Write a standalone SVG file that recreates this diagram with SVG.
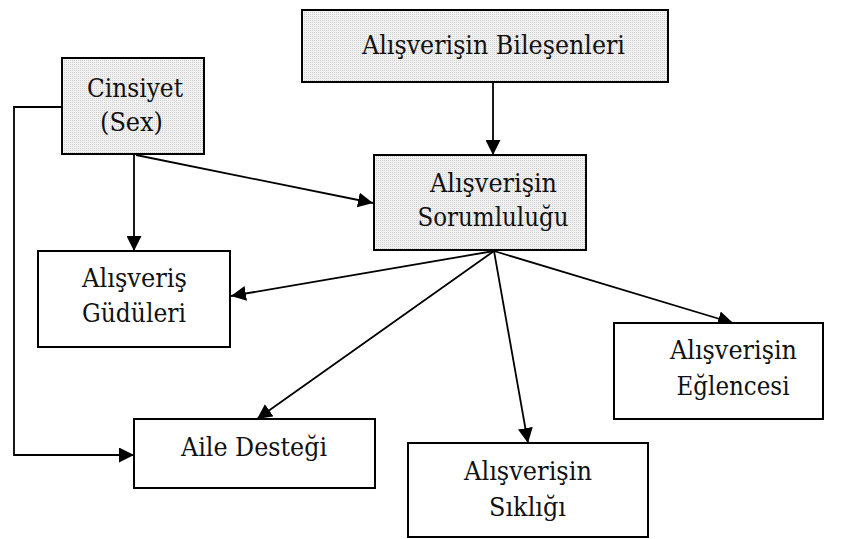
<svg xmlns="http://www.w3.org/2000/svg" width="845" height="539" viewBox="0 0 845 539">
  <style>
    .box { stroke: #000; stroke-width: 2; }
    .plain { fill: #fff; }
    .shaded { fill: url(#dots); }
    .label { font-family: "DejaVu Serif", serif; font-size: 26px; fill: #111; text-anchor: middle; }
    .link { fill: none; stroke: #000; stroke-width: 1.8; marker-end: url(#head); }
  </style>
  <defs>
    <pattern id="dots" width="2" height="2" patternUnits="userSpaceOnUse">
      <rect width="2" height="2" fill="#f2f2f2"/>
      <rect width="1" height="1" fill="#cfcfcf"/>
    </pattern>
    <marker id="head" viewBox="0 0 15 15" refX="15" refY="7.5" markerWidth="15" markerHeight="15" markerUnits="userSpaceOnUse" orient="auto">
      <path d="M0,0 L15,7.5 L0,15 Z" fill="#000"/>
    </marker>
  </defs>
  <rect width="845" height="539" fill="#fff"/>

  <!-- connectors -->
  <g id="connectors">
    <line class="link" x1="493" y1="82" x2="493" y2="155"/>
    <line class="link" x1="134" y1="154" x2="134" y2="251"/>
    <line class="link" x1="136" y1="155" x2="373" y2="203"/>
    <polyline class="link" points="62,107 14,107 14,455 134,455"/>
    <line class="link" x1="494" y1="251" x2="231" y2="296"/>
    <line class="link" x1="494" y1="251" x2="257" y2="419"/>
    <line class="link" x1="494" y1="251" x2="528" y2="443"/>
    <line class="link" x1="494" y1="251" x2="733" y2="323"/>
  </g>

  <g id="bilesenleri">
    <rect class="box shaded" x="302" y="10" width="366" height="72"/>
    <text class="label" x="493.5" y="54" textLength="263" lengthAdjust="spacingAndGlyphs">Alışverişin Bileşenleri</text>
  </g>

  <g id="cinsiyet">
    <rect class="box shaded" x="62" y="58" width="142" height="96"/>
    <text class="label" x="135" y="97" textLength="96" lengthAdjust="spacingAndGlyphs">Cinsiyet</text>
    <text class="label" x="131.5" y="131" textLength="63" lengthAdjust="spacingAndGlyphs">(Sex)</text>
  </g>

  <g id="sorumlulugu">
    <rect class="box shaded" x="374" y="155" width="212" height="95"/>
    <text class="label" x="493.5" y="192" textLength="127" lengthAdjust="spacingAndGlyphs">Alışverişin</text>
    <text class="label" x="493" y="226" textLength="151" lengthAdjust="spacingAndGlyphs">Sorumluluğu</text>
  </g>

  <g id="gudulari">
    <rect class="box plain" x="38" y="251" width="192" height="96"/>
    <text class="label" x="134.5" y="287" textLength="105" lengthAdjust="spacingAndGlyphs">Alışveriş</text>
    <text class="label" x="134" y="322" textLength="104" lengthAdjust="spacingAndGlyphs">Güdüleri</text>
  </g>

  <g id="aile-destegi">
    <rect class="box plain" x="134" y="419" width="241" height="69"/>
    <text class="label" x="254" y="456" textLength="146" lengthAdjust="spacingAndGlyphs">Aile Desteği</text>
  </g>

  <g id="eglencesi">
    <rect class="box plain" x="614" y="323" width="209" height="96"/>
    <text class="label" x="733.5" y="359" textLength="127" lengthAdjust="spacingAndGlyphs">Alışverişin</text>
    <text class="label" x="733" y="395" textLength="113" lengthAdjust="spacingAndGlyphs">Eğlencesi</text>
  </g>

  <g id="sikligi">
    <rect class="box plain" x="408" y="443" width="240" height="94"/>
    <text class="label" x="528" y="480" textLength="128" lengthAdjust="spacingAndGlyphs">Alışverişin</text>
    <text class="label" x="527.5" y="516" textLength="77" lengthAdjust="spacingAndGlyphs">Sıklığı</text>
  </g>
</svg>
